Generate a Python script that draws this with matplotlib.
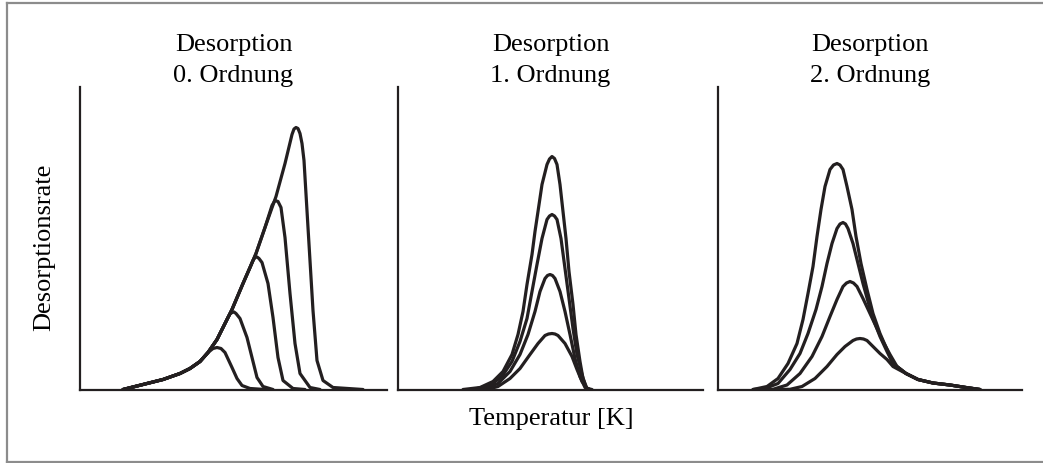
import matplotlib

matplotlib.use("Agg")
import matplotlib.pyplot as plt
from matplotlib.lines import Line2D

plt.rcParams["font.family"] = ["Liberation Serif", "DejaVu Serif"]

TITLES = ["Desorption\n0. Ordnung", "Desorption\n1. Ordnung", "Desorption\n2. Ordnung"]
YLABEL = "Desorptionsrate"
XLABEL = "Temperatur [K]"

# 0. Ordnung: gemeinsame Anstiegsflanke, Abbruch bei steigender Bedeckung
ORD0_X = [
    [43, 67, 83, 100, 110, 120, 128, 133, 137, 141, 145, 152, 157, 162, 170, 185],
    [43, 67, 83, 100, 110, 120, 128, 137, 143, 148, 150, 152, 154, 156, 160, 167, 172, 177, 183, 193],
    [43, 67, 83, 100, 110, 120, 128, 137, 143, 152, 163, 170, 173, 175, 177, 179, 182, 188, 193, 198, 203, 213, 225],
    [43, 67, 83, 100, 110, 120, 128, 137, 143, 152, 163, 170, 176, 185, 192, 195, 198, 201, 205, 210, 215, 220, 230, 240],
    [43, 67, 83, 100, 110, 120, 128, 137, 143, 152, 163, 170, 176, 185, 196, 205, 212, 214, 216, 218, 220, 222, 224, 228, 233, 237, 243, 253, 283],
]
ORD0_Y = [
    [0, 6, 10, 16, 21, 28, 37, 41, 42, 41, 37, 22, 11, 4, 1, 0],
    [0, 6, 10, 16, 21, 28, 37, 50, 62, 72, 75.5, 77, 77.5, 76, 71, 52, 32, 12, 3, 0],
    [0, 6, 10, 16, 21, 28, 37, 50, 62, 80, 106, 122, 129, 132, 132.5, 131, 127, 106, 72, 32, 9, 1, 0],
    [0, 6, 10, 16, 21, 28, 37, 50, 62, 80, 106, 122, 136, 162, 184, 189, 188, 182, 152, 96, 46, 16, 2, 0],
    [0, 6, 10, 16, 21, 28, 37, 50, 62, 80, 106, 122, 136, 162, 193, 226, 255, 260.5, 262, 261, 256, 246, 229, 162, 79, 29, 9, 2, 0],
]

# 1. Ordnung: Maximum bei gleicher Temperatur
ORD1_X = [
    [65, 82, 95, 105, 114, 120, 125, 129, 134, 137, 140, 144, 149, 151.5, 154, 156.5, 159, 162, 165, 168, 171, 175, 178, 182, 185, 189, 194],
    [75, 92, 104, 114, 122, 129, 134, 139, 144, 149, 151.5, 154, 156.5, 159, 163, 167, 171, 175, 179, 184, 188, 192],
    [85, 100, 112, 122, 130, 137, 142, 147, 149.5, 152, 154.5, 157, 162, 167, 172, 177, 182, 187, 191],
    [89, 100, 112, 122, 132, 140, 147, 150.5, 154, 157, 160, 167, 174, 179, 184, 189, 192],
]
ORD1_Y = [
    [0, 2, 8, 18, 35, 55, 78, 105, 135, 158, 178, 205, 225, 230.5, 233, 231, 225, 205, 178, 151, 118, 85, 55, 28, 11, 1, 0],
    [0, 4, 13, 28, 48, 71, 98, 125, 151, 170, 173.5, 175, 173.5, 170, 151, 121, 91, 61, 35, 15, 2, 0],
    [0, 6, 18, 35, 55, 78, 98, 111, 114, 115, 114, 111, 98, 78, 55, 31, 13, 2, 0],
    [0, 3, 11, 21, 35, 46, 54, 55.5, 56, 55.5, 54, 46, 33, 20, 8, 1, 0],
]

# 2. Ordnung: Maximum wandert mit abnehmender Bedeckung nach rechts
ORD2_X = [
    [35, 49, 60, 70, 79, 85, 90, 95, 99, 103, 107, 112, 115.5, 119, 122, 125, 129, 134, 138, 143, 149, 155, 162, 169, 175, 188, 200, 215, 232, 248, 262],
    [35, 47, 60, 72, 82, 90, 98, 104, 109, 114, 119, 122, 125, 127.5, 130, 135, 140, 145, 150, 155, 162, 169, 175, 188, 200, 215, 232, 248, 262],
    [42, 55, 69, 82, 94, 104, 112, 119, 125, 128.5, 132, 135.5, 139, 145, 152, 159, 165, 172, 179, 188, 200, 215, 232, 248, 262],
    [59, 72, 84, 97, 109, 119, 127, 135, 138.5, 142, 145.5, 149, 155, 162, 169, 175, 188, 200, 215, 232, 248, 262],
]
ORD2_Y = [
    [0, 3, 11, 26, 46, 70, 96, 123, 153, 180, 203, 220, 224.5, 226, 224.5, 220, 203, 180, 153, 126, 100, 76, 56, 40, 26, 16, 10, 6.5, 4.5, 2, 0],
    [0, 1, 6, 20, 36, 56, 80, 103, 126, 146, 161, 165.5, 167, 165.5, 161, 146, 126, 106, 88, 71, 53, 38, 26, 16, 10, 6.5, 4.5, 2, 0],
    [0, 0.2, 4.5, 16, 33, 53, 73, 90, 103, 106.5, 108, 106.5, 103, 91, 76, 61, 48, 35, 23, 16, 10, 6.5, 4.5, 2, 0],
    [0, 0.2, 3, 11, 23, 35, 43, 49, 50.5, 51, 50.5, 49, 43, 36, 30, 23, 16, 10, 6.5, 4.5, 2, 0],
]

PANELS = [(ORD0_X, ORD0_Y), (ORD1_X, ORD1_Y), (ORD2_X, ORD2_Y)]

W, H = 1043, 463
# Achsen in Pixeln: links, rechts
AX_LR = [(80, 387), (398, 703), (718, 1022)]
AX_TOP, AX_BOTTOM = 87, 389.5
INK = "#231f20"


def main():
    fig = plt.figure(figsize=(W / 100, H / 100), dpi=100)

    # grauer Rahmen
    frame = dict(color="#8c8c8c", linewidth=1.6, transform=fig.transFigure)
    fig.add_artist(Line2D([7 / W, 7 / W], [1 - 2.5 / H, 1 - 461.5 / H], **frame))
    fig.add_artist(Line2D([7 / W, 1], [1 - 2.5 / H, 1 - 2.5 / H], **frame))
    fig.add_artist(Line2D([7 / W, 1], [1 - 461.5 / H, 1 - 461.5 / H], **frame))

    for (xs, ys), (l, r), title in zip(PANELS, AX_LR, TITLES):
        ax = fig.add_axes([l / W, 1 - AX_BOTTOM / H, (r - l) / W, (AX_BOTTOM - AX_TOP) / H])
        for x, y in zip(xs, ys):
            ax.plot(x, y, color=INK, linewidth=2.3, solid_joinstyle="round", solid_capstyle="round")
        ax.set_xlim(0, r - l)
        ax.set_ylim(0, AX_BOTTOM - AX_TOP)
        ax.set_xticks([])
        ax.set_yticks([])
        for s in ["top", "right"]:
            ax.spines[s].set_visible(False)
        for s in ["left", "bottom"]:
            ax.spines[s].set_color(INK)
            ax.spines[s].set_linewidth(1.6)
        ax.text(0.5, 1.0, title, transform=ax.transAxes, ha="center", va="bottom",
                fontsize=19, linespacing=1.5)

    fig.text(44 / W, 1 - 247 / H, YLABEL, rotation=90, ha="center", va="center", fontsize=19)
    fig.text(551 / W, 1 - 419 / H, XLABEL, ha="center", va="center", fontsize=19)

    fig.savefig("out.png", dpi=100)
    plt.close(fig)


if __name__ == "__main__":
    main()
